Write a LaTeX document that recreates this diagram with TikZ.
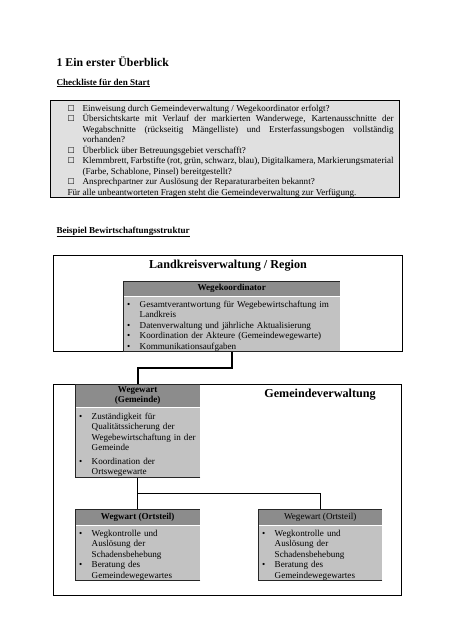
\documentclass[tikz,border=0pt]{standalone}
\usepackage{fontspec}
\setmainfont{Liberation Serif}
\newfontfamily\symfont{DejaVu Sans}
\usetikzlibrary{positioning}
\definecolor{chkgray}{gray}{0.88}
\definecolor{hdrgray}{gray}{0.55}
\definecolor{bdygray}{gray}{0.76}

\newcommand{\chkitem}[1]{\par\noindent\hangindent=26pt\hangafter=1\makebox[26pt][l]{\hspace{11pt}{\symfont\fontsize{8}{8}\selectfont ☐}}#1}
\newcommand{\bitem}[1]{\par\noindent\hangindent=12.5pt\hangafter=1\makebox[12.5pt][l]{\textbullet}#1\par}

\begin{document}
\begin{tikzpicture}[
        x=1pt, y=-1pt,
        font=\fontsize{9.1}{10.5}\selectfont,
        bold/.style={font=\fontsize{9.1}{11}\selectfont\bfseries},
        bigbold/.style={font=\fontsize{12.15}{14}\selectfont\bfseries},
        outer/.style={draw, line width=1.2pt, inner sep=0pt, anchor=north west},
        kopf/.style={fill=hdrgray, inner sep=0pt, align=center, anchor=north west, font=\fontsize{9.1}{10}\selectfont\bfseries},
        rumpf/.style={fill=bdygray, inner xsep=4pt, inner ysep=0pt, align=left},
        rand/.style={draw=black!85, line width=0.8pt},
        link/.style={draw, line width=0.8pt},
    ]
    \useasboundingbox[fill=white] (0,0) rectangle (452,640);

    % Kopf der Seite
    \node[anchor=base west, font=\fontsize{11.8}{14}\selectfont\bfseries] (titel) at (53,66) {1 Ein erster Überblick};
    \node[anchor=base west, bold] (check) at (53,85) {\underline{Checkliste für den Start}};

    % Checkliste
    \node[draw, line width=1.2pt, fill=chkgray, anchor=north west, inner xsep=6pt, inner ysep=0pt,
          text width=337pt, minimum height=97pt, align=justify] (liste) at (50,100) {%
        \chkitem{Einweisung durch Gemeindeverwaltung / Wegekoordinator erfolgt?}
        \chkitem{Übersichtskarte mit Verlauf der markierten Wanderwege, Kartenausschnitte der\linebreak Wegabschnitte (rückseitig Mängelliste) und Ersterfassungsbogen vollständig\linebreak vorhanden?}
        \chkitem{Überblick über Betreuungsgebiet verschafft?}
        \chkitem{Klemmbrett, Farbstifte (rot, grün, schwarz, blau), Digitalkamera, Markierungsmaterial\linebreak (Farbe, Schablone, Pinsel) bereitgestellt?}
        \chkitem{Ansprechpartner zur Auslösung der Reparaturarbeiten bekannt?}
        \par\noindent\hspace*{11pt}Für alle unbeantworteten Fragen steht die Gemeindeverwaltung zur Verfügung.};

    \node[anchor=base west, bold] (beispiel) at (53,233) {\underline{Beispiel Bewirtschaftungsstruktur}};

    % Landkreis
    \node[outer, minimum width=349pt, minimum height=96pt] (landkreis) at (53,255) {};
    \node[anchor=base, bigbold] (lkrtitel) at (228,268) {Landkreisverwaltung / Region};
    \node[kopf, minimum width=217pt, minimum height=15pt] (koord) at (123,281) {Wegekoordinator};
    \node[rumpf, text width=209pt, minimum height=55pt, below=0pt of koord] (koordtext) {%
        \bitem{Gesamtverantwortung für Wegebewirtschaftung im\newline Landkreis}
        \bitem{Datenverwaltung und jährliche Aktualisierung}
        \bitem{Koordination der Akteure (Gemeindewegewarte)}
        \bitem{Kommunikationsaufgaben}};

    % Gemeinde
    \node[outer, line width=1pt, minimum width=348pt, minimum height=211pt] (gemeinde) at (53,384) {};
    \node[anchor=base, bigbold] (gemtitel) at (320,397) {Gemeindeverwaltung};
    \node[kopf, minimum width=125pt, minimum height=23pt] (gwart) at (75,384) {Wegewart\\(Gemeinde)};
    \node[rumpf, text width=117pt, minimum height=70pt, below=0pt of gwart] (gwarttext) {%
        \bitem{Zuständigkeit für\newline Qualitätssicherung der\newline Wegebewirtschaftung in der\newline Gemeinde}
        \vspace{3pt}
        \bitem{Koordination der\newline Ortswegewarte}};

    % Ortsteile
    \node[kopf, minimum width=125pt, minimum height=16pt] (owart1) at (75,509) {Wegwart (Ortsteil)};
    \node[rumpf, text width=117pt, minimum height=53pt, below=0pt of owart1] (owart1text) {%
        \bitem{Wegkontrolle und\newline Auslösung der\newline Schadensbehebung}
        \bitem{Beratung des\newline Gemeindewegewartes}};
    \node[kopf, minimum width=124pt, minimum height=16pt, font=\fontsize{9.1}{10}\selectfont] (owart2) at (258,509) {Wegewart (Ortsteil)};
    \node[rumpf, text width=116pt, minimum height=53pt, below=0pt of owart2] (owart2text) {%
        \bitem{Wegkontrolle und\newline Auslösung der\newline Schadensbehebung}
        \bitem{Beratung des\newline Gemeindewegewartes}};

    % Raender
    \draw[rand] (koordtext.south east) -- (koordtext.south west) -- (koord.north west) -- (koord.north east);
    \draw[rand] (gwarttext.south east) -- (gwarttext.south west) -- (gwart.north west) -- (gwart.north east);
    \draw[rand] (owart1text.south east) -- (owart1text.south west) -- (owart1.north west) -- (owart1.north east);
    \draw[rand] (owart2text.south east) -- (owart2text.south west) -- (owart2.north west) -- (owart2.north east);

    % Verbindungen
    \draw[line width=1.6pt] (koordtext.south) -- ++(0,16) -| (gwart.north);
    \draw[link] (gwarttext.south) -- ++(0,16) coordinate (gabel) -| (owart2.north);
    \draw[link] (gabel) -- (owart1.north);

\end{tikzpicture}
\end{document}
